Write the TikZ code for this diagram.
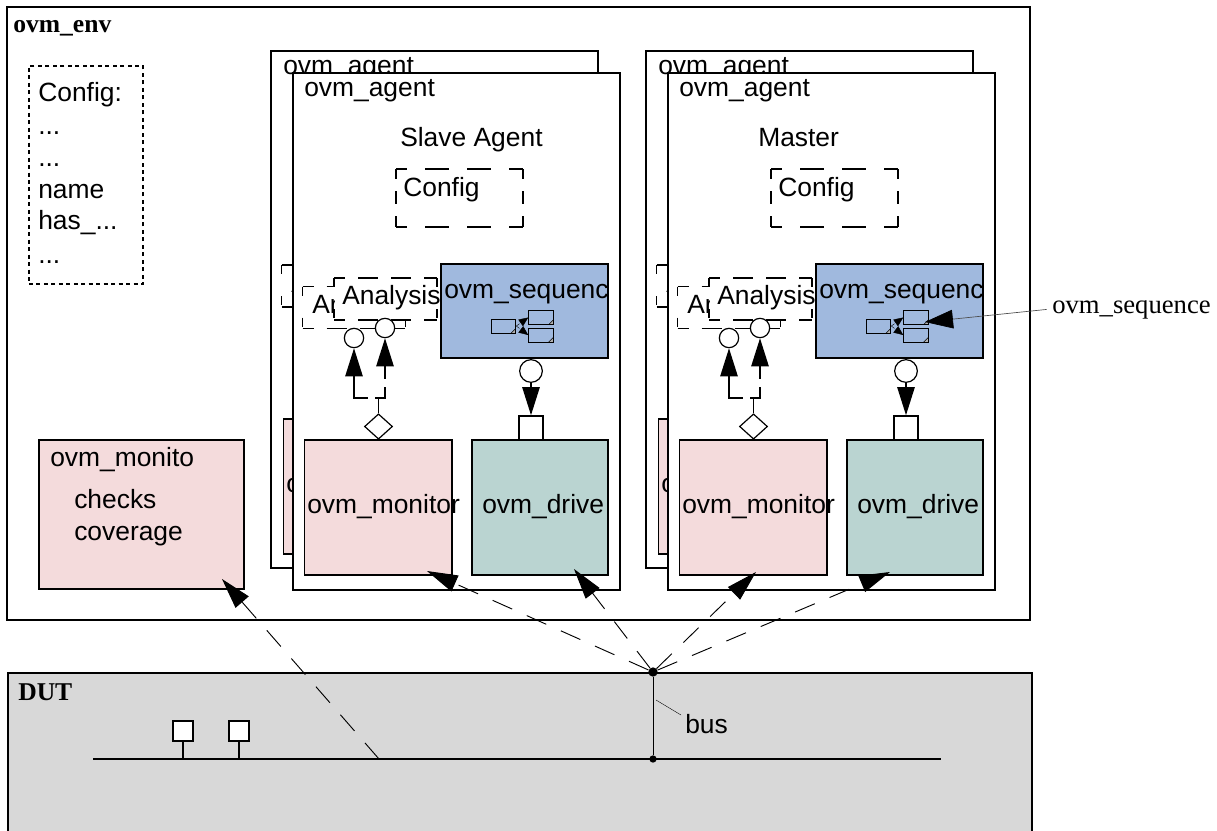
\documentclass[tikz,border=0pt]{standalone}
\usepackage{fontspec}
\setmainfont{Liberation Sans}
\newfontfamily\serifpart{Liberation Serif}
\usetikzlibrary{arrows.meta, shapes.geometric}
\definecolor{monpink}{HTML}{F4DBDC}
\definecolor{drvgreen}{HTML}{BAD4D1}
\definecolor{seqblue}{HTML}{A0B9DE}
\definecolor{dutgray}{HTML}{D8D8D8}
\newcommand{\dashframe}[3]{
  \draw[#2] (#1.north west) -- (#1.north east);
  \draw[#2] (#1.south west) -- (#1.south east);
  \draw[#3] (#1.north west) -- (#1.south west);
  \draw[#3] (#1.north east) -- (#1.south east);
}
\tikzset{
    %Define style for boxes
    envbox/.style={
           rectangle,
           draw=black, line width=1.3pt,
           inner sep=0pt,
           fill=white},
 %
    agentbox/.style={
           envbox,
           minimum width=245.25pt,
           minimum height=387.75pt},
 %
    cfgbox/.style={
           envbox,
           draw=none,
           minimum width=93.75pt,
           minimum height=42pt},
 %
    anabox/.style={
           envbox,
           draw=none,
           minimum width=75.75pt,
           minimum height=30pt},
 %
    cfgh/.style={line width=1.2pt, dash pattern=on 18pt off 13.5pt, dash phase=9.75pt},
    cfgv/.style={line width=1.2pt, dash pattern=on 9.75pt off 9pt, dash phase=2.25pt},
    anah/.style={line width=1.2pt, dash pattern=on 15pt off 9.75pt, dash phase=6.75pt},
    anav/.style={line width=1.2pt, dash pattern=on 6.75pt off 16.5pt},
 %
    monbox/.style={
           envbox,
           fill=monpink,
           minimum width=110.6pt,
           minimum height=101.25pt},
 %
    drvbox/.style={
           envbox,
           fill=drvgreen,
           line width=2pt,
           minimum width=102pt,
           minimum height=101.25pt},
 %
    seqbox/.style={
           envbox,
           fill=seqblue,
           line width=2.2pt,
           minimum width=125.25pt,
           minimum height=70.5pt},
 %
    docbox/.style={
           rectangle,
           draw=black, line width=.7pt,
           inner sep=0pt,
           minimum width=18.5pt,
           minimum height=10.5pt,
           path picture={
             \fill[white!70!black] (path picture bounding box.south east) -- ++(-3.5pt,0) -- ++(3.5pt,3.5pt) -- cycle;
             \draw[line width=.4pt] (path picture bounding box.south east) ++(-3.5pt,0) -- ++(3.5pt,3.5pt);}},
 %
    portc/.style={circle, draw=black, fill=white, line width=.9pt, inner sep=0pt, minimum size=15pt},
    ports/.style={rectangle, draw=black, fill=white, line width=1.2pt, inner sep=0pt, minimum width=18pt, minimum height=18pt},
    portd/.style={diamond, draw=black, fill=white, line width=.9pt, inner sep=0pt, minimum width=21pt, minimum height=19pt},
    busdot/.style={circle, fill=black, inner sep=0pt, minimum size=7pt},
    tag/.style={anchor=base west, inner sep=0pt, yshift=-1.1pt, font=\fontsize{19.8}{23}\selectfont},
    titletag/.style={anchor=base west, inner sep=0pt, yshift=-1.5pt, font=\serifpart\bfseries\fontsize{19.2}{22}\selectfont},
    %
    % Define arrow style
    arrow/.style={
           -{Triangle[length=21pt,width=13pt]},
           line width=1.1pt},
    minor/.style={
           -{Triangle[length=7pt,width=6pt]},
           line width=.3pt,
           densely dashed},
    longdash/.style={
           -{Triangle[length=23pt,width=13pt]},
           line width=.7pt,
           dash pattern=on 16pt off 12pt}
}

\begin{document}
\begin{tikzpicture}[x=.75pt,y=-.75pt]
  \path[clip, use as bounding box] (0,0) rectangle (1217,831);

  % environment
  \node[envbox, minimum width=767.25pt, minimum height=459.75pt] (env) at (518.5,313.5) {};
  \node[titletag] (envtag) at (13,31) {ovm\_env};
  \node[envbox, line width=1pt, dash pattern=on 3pt off 2.6pt, minimum width=85.5pt, minimum height=163.5pt] (cfgenv) at (86,175) {};
  \node[tag] (cfgline1) at (38,100) {Config:};
  \node[tag] (cfgline2) at (38,133) {...};
  \node[tag] (cfgline3) at (38,165) {...};
  \node[tag] (cfgline4) at (38,197) {name};
  \node[tag] (cfgline5) at (38,228) {has\_...};
  \node[tag] (cfgline6) at (38,262) {...};

  \node[monbox, minimum width=153.75pt, minimum height=111.75pt] (monenv) at (141.5,514.5) {};
  \node[tag] (monenvtag) at (50,465) {ovm\_monito};
  \node[tag] (checks) at (74,507) {checks};
  \node[tag] (coverage) at (74,539) {coverage};

  % slave agent, the one behind
  \node[agentbox] (agentBackA) at (434.5,309.5) {};
  \node[tag] (agentBackAtag) at (283,73) {ovm\_agent};
  \node[anabox] (anaBackA) at (333,286) {};
  \dashframe{anaBackA}{anah}{anav}
  \node[tag] (anaBackAtag) at (291,291) {Analysis};
  \node[monbox] (monBackA) at (357.25,486.5) {};
  \node[tag] (monBackAtag) at (286,491) {ovm\_monitor};

  % slave agent
  \node[agentbox] (agentA) at (456.5,331.5) {};
  \node[tag] (agentAtag) at (304,95) {ovm\_agent};
  \node[tag] (slave) at (400,145) {Slave Agent};
  \node[cfgbox] (cfgA) at (459.5,198) {};
  \dashframe{cfgA}{cfgh}{cfgv}
  \node[tag] (cfgAtag) at (403,195) {Config};
  \node[anabox] (anaA1) at (354,307.5) {};
  \dashframe{anaA1}{anah}{anav}
  \node[tag] (anaA1tag) at (312,312) {Analysis};
  \node[anabox] (anaA2) at (385.5,299) {};
  \dashframe{anaA2}{anah}{anav}
  \node[tag] (anaA2tag) at (342,303) {Analysis};
  \node[seqbox] (seqA) at (524.5,311) {};
  \node[tag] (seqAtag) at (444,297) {ovm\_sequenc};
  \node[docbox] (docA1) at (503.5,326) {};
  \node[docbox] (docA2) at (541,317.5) {};
  \node[docbox] (docA3) at (541,335) {};
  \node[monbox] (monA) at (378.25,507.5) {};
  \node[tag] (monAtag) at (307,512) {ovm\_monitor};
  \node[drvbox] (drvA) at (540,507.5) {};
  \node[tag] (drvAtag) at (482,512) {ovm\_drive};
  \node[portc, minimum size=14.5pt] (circA1) at (354,338) {};
  \node[portc, minimum size=14.5pt] (circA2) at (385,328) {};
  \node[portc, minimum size=17pt] (circA3) at (531,371) {};
  \node[ports] (sqA) at (531,428) {};
  \node[portd] (diaA) at (378.5,426.5) {};
  \coordinate (elbowA) at (378.5,398);

  \draw[line width=1.1pt] (diaA) -- (elbowA);
  \draw[arrow, dash pattern=on 3pt off 5.25pt on 60pt] (elbowA) -| (circA1.south);
  \draw[arrow, dash pattern=on 13.5pt off 6pt on 60pt] (elbowA) -| (circA2.south);
  \draw[arrow] (circA3) -- (sqA);
  \draw[minor] (docA1.east) -- (docA2.west);
  \draw[minor] (docA1.east) -- (docA3.west);

  % master, the one behind
  \node[agentbox] (agentBackB) at (809.5,309.5) {};
  \node[tag] (agentBackBtag) at (658,73) {ovm\_agent};
  \node[anabox] (anaBackB) at (708,286) {};
  \dashframe{anaBackB}{anah}{anav}
  \node[tag] (anaBackBtag) at (666,291) {Analysis};
  \node[monbox] (monBackB) at (732.25,486.5) {};
  \node[tag] (monBackBtag) at (661,491) {ovm\_monitor};

  % master
  \node[agentbox] (agentB) at (831.5,331.5) {};
  \node[tag] (agentBtag) at (679,95) {ovm\_agent};
  \node[tag] (master) at (758,145) {Master};
  \node[cfgbox] (cfgB) at (834.5,198) {};
  \dashframe{cfgB}{cfgh}{cfgv}
  \node[tag] (cfgBtag) at (778,195) {Config};
  \node[anabox] (anaB1) at (729,307.5) {};
  \dashframe{anaB1}{anah}{anav}
  \node[tag] (anaB1tag) at (687,312) {Analysis};
  \node[anabox] (anaB2) at (760.5,299) {};
  \dashframe{anaB2}{anah}{anav}
  \node[tag] (anaB2tag) at (717,303) {Analysis};
  \node[seqbox] (seqB) at (899.5,311) {};
  \node[tag] (seqBtag) at (819,297) {ovm\_sequenc};
  \node[docbox] (docB1) at (878.5,326) {};
  \node[docbox] (docB2) at (916,317.5) {};
  \node[docbox] (docB3) at (916,335) {};
  \node[monbox] (monB) at (753.25,507.5) {};
  \node[tag] (monBtag) at (682,512) {ovm\_monitor};
  \node[drvbox] (drvB) at (915,507.5) {};
  \node[tag] (drvBtag) at (857,512) {ovm\_drive};
  \node[portc, minimum size=14.5pt] (circB1) at (729,338) {};
  \node[portc, minimum size=14.5pt] (circB2) at (760,328) {};
  \node[portc, minimum size=17pt] (circB3) at (906,371) {};
  \node[ports] (sqB) at (906,428) {};
  \node[portd] (diaB) at (753.5,426.5) {};
  \coordinate (elbowB) at (753.5,398);

  \draw[line width=1.1pt] (diaB) -- (elbowB);
  \draw[arrow, dash pattern=on 3pt off 5.25pt on 60pt] (elbowB) -| (circB1.south);
  \draw[arrow, dash pattern=on 13.5pt off 6pt on 60pt] (elbowB) -| (circB2.south);
  \draw[arrow] (circB3) -- (sqB);
  \draw[minor] (docB1.east) -- (docB2.west);
  \draw[minor] (docB1.east) -- (docB3.west);

  % DUT
  \node[envbox, fill=dutgray, anchor=north west, minimum width=768pt, minimum height=150pt] (dut) at (7,672) {};
  \node[titletag] (duttag) at (18,698) {DUT};
  \coordinate (busL) at (93,759);
  \coordinate (busR) at (941,759);
  \draw[line width=1.5pt] (busL) -- (busR);
  \node[ports, minimum width=15pt, minimum height=15pt] (devA) at (183,731) {};
  \node[ports, minimum width=15pt, minimum height=15pt] (devB) at (239,731) {};
  \draw[line width=1.2pt] (devA) -- (devA |- busL);
  \draw[line width=1.2pt] (devB) -- (devB |- busL);
  \node[busdot] (dotTop) at (653,672) {};
  \node[busdot, minimum size=5.5pt] (dotBus) at (653,759) {};
  \draw[line width=.7pt] (dotTop) -- (dotBus);
  \node[tag] (bustag) at (685,732) {bus};
  \coordinate (busLeadA) at (656,700);
  \coordinate (busLeadB) at (681,715);
  \draw[line width=.3pt] (busLeadA) -- (busLeadB);

  % bus connections
  \coordinate (tapE) at (379,759);
  \coordinate (tipE) at (222,579);
  \coordinate (tipMA) at (427,571);
  \coordinate (tipDA) at (574,569);
  \coordinate (tipMB) at (756,572);
  \coordinate (tipDB) at (890,572);
  \draw[longdash] (tapE) -- (tipE);
  \draw[longdash] (dotTop) -- (tipMA);
  \draw[longdash] (dotTop) -- (tipDA);
  \draw[longdash] (dotTop) -- (tipMB);
  \draw[longdash] (dotTop) -- (tipDB);

  % sequence call-out
  \node[anchor=base west, inner sep=0pt, font=\serifpart\fontsize{20}{24}\selectfont] (seqnote) at (1052,313) {ovm\_sequence};
  \coordinate (seqnoteTip) at (925,322);
  \draw[-{Triangle[length=21pt,width=14pt,color=black]}, draw=black!70, line width=.5pt] (seqnote.west) ++(-4pt,0) -- (seqnoteTip);
\end{tikzpicture}
\end{document}
